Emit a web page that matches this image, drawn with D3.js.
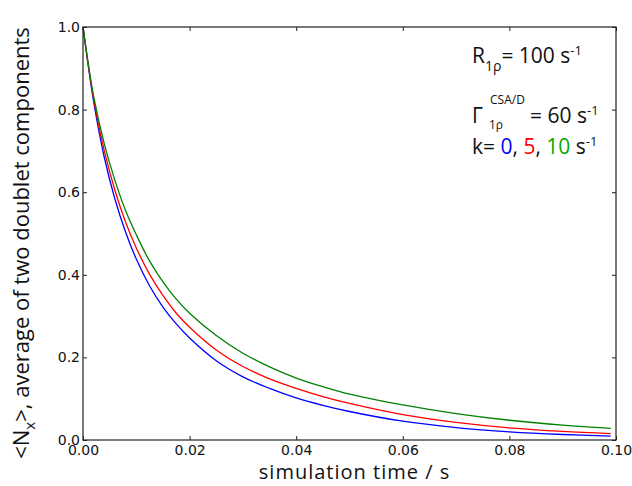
<!DOCTYPE html>
<html>
<head>
<meta charset="utf-8">
<script src="https://cdn.jsdelivr.net/npm/d3@7"></script>
<style>
  body { margin: 0; background: #fff; }
  svg { display: block; }
  .tick text { font-family: "DejaVu Sans", sans-serif; font-size: 14px; fill: #111; }
  .tick line { stroke: #222; }
  .title { font-family: "Open Sans", sans-serif; fill: #111; }
</style>
</head>
<body>
<svg id="chart" width="632" height="486"></svg>
<script>
// simulation time (s)
var times = [0, 0.002, 0.004, 0.006, 0.008, 0.010, 0.0125, 0.015, 0.0175, 0.020, 0.025,
  0.030, 0.035, 0.040, 0.045, 0.050, 0.060, 0.070, 0.080, 0.090, 0.099]
// k = 0 s-1
var seriesK0 = [1.000, 0.819, 0.684, 0.583, 0.503, 0.438, 0.373, 0.322, 0.281, 0.247, 0.192,
  0.153, 0.125, 0.102, 0.084, 0.069, 0.0455, 0.0302, 0.0198, 0.0133, 0.0095]
// k = 5 s-1
var seriesK5 = [1.000, 0.825, 0.700, 0.604, 0.527, 0.465, 0.401, 0.350, 0.307, 0.273, 0.218,
  0.178, 0.148, 0.125, 0.105, 0.0885, 0.0614, 0.0429, 0.0296, 0.0209, 0.0156]
// k = 10 s-1
var seriesK10 = [1.000, 0.832, 0.717, 0.628, 0.555, 0.497, 0.433, 0.383, 0.341, 0.307, 0.253,
  0.210, 0.177, 0.150, 0.129, 0.111, 0.085, 0.064, 0.0478, 0.0358, 0.0283]

var xTicks = [0, 0.02, 0.04, 0.06, 0.08, 0.10]
var yTicks = [0, 0.2, 0.4, 0.6, 0.8, 1.0]

var series = [
  { name: "k0", values: seriesK0, color: "#0000ff" },
  { name: "k5", values: seriesK5, color: "#ff0000" },
  { name: "k10", values: seriesK10, color: "#008000" }
]

var margin = { top: 27, right: 16, bottom: 46, left: 83 }
var svg = d3.select("#chart")
var width = +svg.attr("width") - margin.left - margin.right
var height = +svg.attr("height") - margin.top - margin.bottom

var x = d3.scaleLinear().domain([0, 0.1]).range([0, width])
var y = d3.scaleLinear().domain([0, 1]).range([height, 0])

var g = svg.append("g").attr("transform", "translate(" + margin.left + "," + margin.top + ")")

// lines
var line = d3.line()
  .x(function (d) { return x(d[0]) })
  .y(function (d) { return y(d[1]) })
  .curve(d3.curveCatmullRom.alpha(0.5))

series.forEach(function (s) {
  g.append("path")
    .datum(times.map(function (t, i) { return [t, s.values[i]] }))
    .attr("fill", "none")
    .attr("stroke", s.color)
    .attr("stroke-width", 1.3)
    .attr("d", line)
})

// axes, ticks pointing inwards like matplotlib
g.append("g").attr("transform", "translate(0," + height + ")")
  .call(d3.axisBottom(x).tickValues(xTicks).tickFormat(d3.format(".2f")).tickSize(-4).tickPadding(5))
g.append("g")
  .call(d3.axisTop(x).tickValues(xTicks).tickFormat("").tickSize(-4))
g.append("g")
  .call(d3.axisLeft(y).tickValues(yTicks).tickFormat(d3.format(".1f")).tickSize(-4).tickPadding(3))
g.append("g").attr("transform", "translate(" + width + ",0)")
  .call(d3.axisRight(y).tickValues(yTicks).tickFormat("").tickSize(-4))
g.selectAll(".domain").remove()

g.append("rect")
  .attr("width", width).attr("height", height)
  .attr("fill", "none").attr("stroke", "#222").attr("stroke-width", 1.2)

// axis titles
svg.append("text").attr("class", "title")
  .attr("x", margin.left + width / 2 + 5).attr("y", 479)
  .attr("text-anchor", "middle").attr("font-size", 20).attr("letter-spacing", 1)
  .text("simulation time / s")

var yt = svg.append("text").attr("class", "title")
  .attr("transform", "translate(29,243) rotate(-90)")
  .attr("text-anchor", "middle").attr("font-size", 22)
yt.append("tspan").text("<N")
yt.append("tspan").attr("font-size", 15).attr("dy", 6).text("x")
yt.append("tspan").attr("dy", -6).text(">, average of two doublet components")

// annotations
var ann = svg.append("g").attr("class", "title").attr("font-size", 21)

var t1 = ann.append("text").attr("x", 472).attr("y", 63)
t1.append("tspan").text("R")
t1.append("tspan").attr("font-size", 14).attr("dy", 8).text("1ρ")
t1.append("tspan").attr("dy", -8).text("= 100 s")
t1.append("tspan").attr("font-size", 13).attr("dy", -8).text("-1")

ann.append("text").attr("x", 472).attr("y", 123).text("Γ")
ann.append("text").attr("x", 490).attr("y", 104).attr("font-size", 12).text("CSA/D")
ann.append("text").attr("x", 489).attr("y", 129).attr("font-size", 12).text("1ρ")
var t2 = ann.append("text").attr("x", 530).attr("y", 123)
t2.append("tspan").text("= 60 s")
t2.append("tspan").attr("font-size", 13).attr("dy", -8).text("-1")

var t3 = ann.append("text").attr("x", 472).attr("y", 154)
t3.append("tspan").text("k= ")
t3.append("tspan").attr("fill", "#0000ff").text("0")
t3.append("tspan").text(", ")
t3.append("tspan").attr("fill", "#ff0000").text("5")
t3.append("tspan").text(", ")
t3.append("tspan").attr("fill", "#00aa00").text("10")
t3.append("tspan").text(" s")
t3.append("tspan").attr("font-size", 13).attr("dy", -8).text("-1")
</script>
</body>
</html>
